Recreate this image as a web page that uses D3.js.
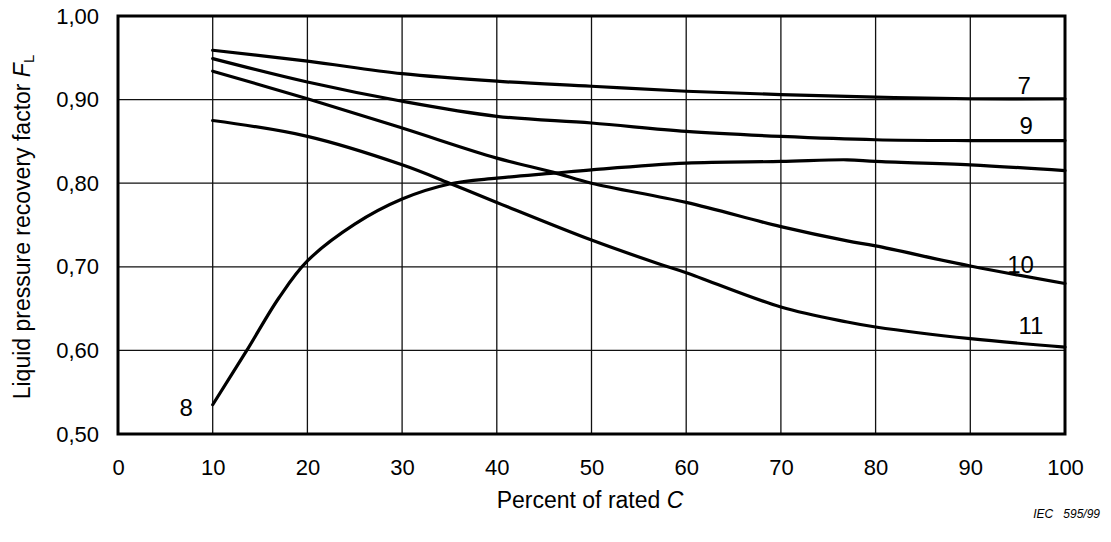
<!DOCTYPE html>
<html>
<head>
<meta charset="utf-8">
<script src="https://cdn.jsdelivr.net/npm/d3@7"></script>
<style>
  html, body { margin: 0; padding: 0; background: #fff; }
  svg { display: block; font-family: "Liberation Sans", Arial, sans-serif; }
</style>
</head>
<body>
<svg id="chart" width="1111" height="542"></svg>
<script>
// Axis ticks
const xTicks = [0, 10, 20, 30, 40, 50, 60, 70, 80, 90, 100];
const yTicks = [0.5, 0.6, 0.7, 0.8, 0.9, 1.0];

// F_L against percent of rated C, one pair of arrays per valve style
const curve7x  = [10, 20, 30, 40, 50, 60, 70, 80, 90, 100];
const curve7y  = [0.959, 0.946, 0.931, 0.922, 0.916, 0.910, 0.906, 0.903, 0.901, 0.901];

const curve9x  = [10, 20, 30, 40, 50, 60, 70, 80, 90, 100];
const curve9y  = [0.949, 0.921, 0.898, 0.880, 0.872, 0.862, 0.856, 0.852, 0.851, 0.851];

const curve10x = [10, 20, 30, 40, 46, 50, 60, 70, 77, 80, 90, 100];
const curve10y = [0.934, 0.901, 0.866, 0.830, 0.813, 0.800, 0.777, 0.748, 0.731, 0.725, 0.701, 0.680];

const curve11x = [10, 20, 30, 35, 40, 50, 57, 60, 70, 77, 80, 90, 100];
const curve11y = [0.875, 0.856, 0.822, 0.800, 0.777, 0.732, 0.704, 0.693, 0.652, 0.634, 0.628, 0.614, 0.604];

const curve8x  = [10, 13.6, 17, 20, 25, 30, 35, 40, 46, 50, 60, 70, 77, 80, 90, 100];
const curve8y  = [0.535, 0.600, 0.663, 0.707, 0.751, 0.781, 0.799, 0.806, 0.812, 0.816, 0.824, 0.826, 0.828, 0.826, 0.822, 0.815];

const curveNames = ["7", "9", "10", "11", "8"];

const svg = d3.select("#chart");
const plot = { left: 118, right: 1065, top: 16, bottom: 434 };

const x = d3.scaleLinear().domain([0, 100]).range([plot.left, plot.right]);
const y = d3.scaleLinear().domain([0.5, 1.0]).range([plot.bottom, plot.top]);

const fmt = d => d3.format(".2f")(d).replace(".", ",");

// grid
const grid = svg.append("g").attr("stroke", "#111").attr("stroke-width", 1.3);
grid.selectAll("line.v").data(xTicks.filter(t => t > 0 && t < 100)).join("line")
  .attr("x1", d => x(d)).attr("x2", d => x(d))
  .attr("y1", plot.top).attr("y2", plot.bottom);
grid.selectAll("line.h").data(yTicks.filter(t => t > 0.5 && t < 1.0)).join("line")
  .attr("x1", plot.left).attr("x2", plot.right)
  .attr("y1", d => y(d)).attr("y2", d => y(d));

// axes (labels only, the frame is drawn separately)
const xAxis = d3.axisBottom(x).tickValues(xTicks).tickSize(0).tickPadding(25).tickFormat(d3.format("d"));
const yAxis = d3.axisLeft(y).tickValues(yTicks).tickSize(0).tickPadding(19).tickFormat(fmt);

const gx = svg.append("g").attr("transform", `translate(0,${plot.bottom})`).call(xAxis);
const gy = svg.append("g").attr("transform", `translate(${plot.left},0)`).call(yAxis);
[gx, gy].forEach(g => {
  g.select(".domain").remove();
  g.selectAll("text").attr("font-size", 22).attr("fill", "#000")
    .attr("font-family", "'Liberation Sans', Arial, sans-serif");
});

// frame
svg.append("rect")
  .attr("x", plot.left).attr("y", plot.top)
  .attr("width", plot.right - plot.left).attr("height", plot.bottom - plot.top)
  .attr("fill", "none").attr("stroke", "#000").attr("stroke-width", 3);

// curves
const series = [
  { xs: curve7x,  ys: curve7y },
  { xs: curve9x,  ys: curve9y },
  { xs: curve10x, ys: curve10y },
  { xs: curve11x, ys: curve11y },
  { xs: curve8x,  ys: curve8y }
];
const line = d3.line().x(d => x(d[0])).y(d => y(d[1])).curve(d3.curveCatmullRom.alpha(0.5));
svg.append("g").selectAll("path").data(series).join("path")
  .attr("d", s => line(s.xs.map((v, i) => [v, s.ys[i]])))
  .attr("fill", "none").attr("stroke", "#000").attr("stroke-width", 3.2)
  .attr("stroke-linejoin", "round").attr("stroke-linecap", "round");

// curve labels
const labelPos = [
  { name: curveNames[0], px: 95.7, py: 0.907 },
  { name: curveNames[1], px: 95.9, py: 0.859 },
  { name: curveNames[2], px: 95.3, py: 0.693 },
  { name: curveNames[3], px: 96.4, py: 0.620 },
  { name: curveNames[4], px: 7.2,  py: 0.522 }
];
svg.append("g").selectAll("text").data(labelPos).join("text")
  .attr("x", d => x(d.px)).attr("y", d => y(d.py))
  .attr("text-anchor", "middle").attr("font-size", 24).attr("fill", "#000")
  .text(d => d.name);

// axis titles
const yTitle = svg.append("text")
  .attr("transform", `translate(30,${(plot.top + plot.bottom) / 2 + 2}) rotate(-90)`)
  .attr("text-anchor", "middle").attr("font-size", 23).attr("fill", "#000");
yTitle.append("tspan").text("Liquid pressure recovery factor ");
yTitle.append("tspan").attr("font-style", "italic").text("F");
yTitle.append("tspan").attr("font-size", 15).attr("dy", 4).text("L");

const xTitle = svg.append("text")
  .attr("x", 590).attr("y", 508)
  .attr("text-anchor", "middle").attr("font-size", 23).attr("fill", "#000");
xTitle.append("tspan").text("Percent of rated ");
xTitle.append("tspan").attr("font-style", "italic").text("C");

svg.append("text")
  .attr("x", 1100).attr("y", 518)
  .attr("text-anchor", "end").attr("font-size", 12).attr("font-style", "italic")
  .attr("fill", "#000").attr("xml:space", "preserve")
  .text("IEC   595/99");
</script>
</body>
</html>
